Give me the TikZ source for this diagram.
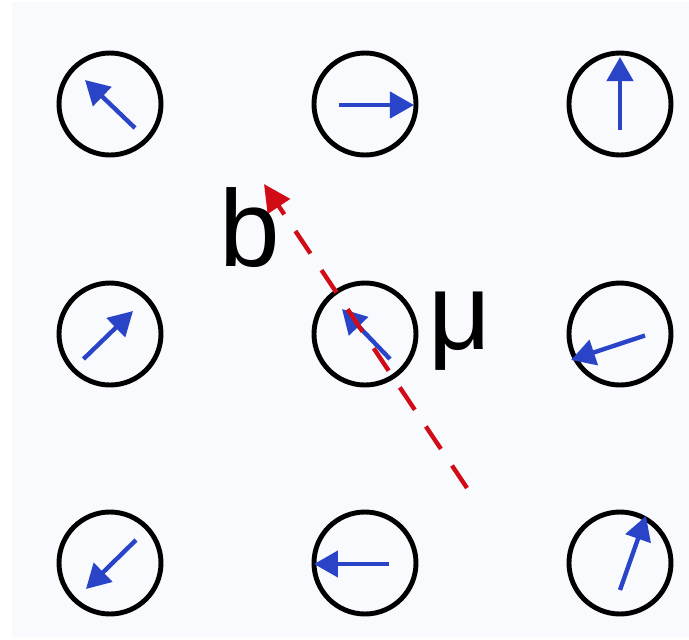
\documentclass[tikz,border=0pt]{standalone}
\usepackage{fontspec}
\newfontfamily\labelfont{Liberation Sans}
\usetikzlibrary{arrows.meta}
\definecolor{spinblue}{RGB}{42,68,200}
\definecolor{fieldred}{RGB}{210,12,22}
\definecolor{bgblue}{RGB}{248,250,254}

\begin{document}
\begin{tikzpicture}[
        site/.style={circle, draw=black, line width=1.4pt, minimum size=1.02cm, inner sep=0pt},
        spin/.style={draw=spinblue, line width=1.25pt, -{Triangle[length=0.24cm, width=0.26cm]}},
        field/.style={draw=fieldred, line width=1.25pt, dash pattern=on 0.27cm off 0.2cm, -{Triangle[length=0.27cm, width=0.26cm]}},
        lbl/.style={inner sep=0pt, font=\labelfont\fontsize{31}{31}\selectfont},
    ]
    \useasboundingbox (0,0) rectangle (6.89,-6.40);
    \fill[bgblue] (0.12,-0.02) rectangle (6.89,-6.37);

    % Column x-positions
    \def\cA{1.10}
    \def\cB{3.65}
    \def\cC{6.20}
    % Row y-positions
    \def\rA{-1.04}
    \def\rB{-3.34}
    \def\rC{-5.63}

    % ===== Lattice sites =====
    \node[site] (s11) at (\cA, \rA) {}; \node[site] (s12) at (\cB, \rA) {}; \node[site] (s13) at (\cC, \rA) {};
    \node[site] (s21) at (\cA, \rB) {}; \node[site] (s22) at (\cB, \rB) {}; \node[site] (s23) at (\cC, \rB) {};
    \node[site] (s31) at (\cA, \rC) {}; \node[site] (s32) at (\cB, \rC) {}; \node[site] (s33) at (\cC, \rC) {};

    % ===== Spins =====
    % Row 1
    \draw[spin] ([shift={(0.25,-0.24)}]s11.center) -- ++(-0.50,0.48);
    \draw[spin] ([shift={(-0.26,-0.01)}]s12.center) -- ++(0.75,0);
    \draw[spin] ([shift={(0,-0.26)}]s13.center) -- ++(0,0.73);
    % Row 2
    \draw[spin] ([shift={(-0.265,-0.25)}]s21.center) -- ++(0.495,0.48);
    \draw[spin] ([shift={(0.25,-0.25)}]s22.center) -- ++(-0.48,0.50);
    \draw[spin] ([shift={(0.25,-0.015)}]s23.center) -- ++(-0.74,-0.245);
    % Row 3
    \draw[spin] ([shift={(0.26,0.23)}]s31.center) -- ++(-0.50,-0.49);
    \draw[spin] ([shift={(0.24,-0.01)}]s32.center) -- ++(-0.75,0);
    \draw[spin] ([shift={(0,-0.27)}]s33.center) -- ++(0.26,0.74);

    % ===== Field direction =====
    \coordinate (fieldtail) at (4.67,-4.88);
    \coordinate (fieldtip) at (2.64,-1.84);
    \draw[field] (fieldtail) -- (fieldtip);

    % ===== Labels =====
    \node[lbl] (blabel) at (2.495,-2.28) {b};
    \node[lbl] (mulabel) at (4.60,-3.315) {μ};

    \end{tikzpicture}
\end{document}
